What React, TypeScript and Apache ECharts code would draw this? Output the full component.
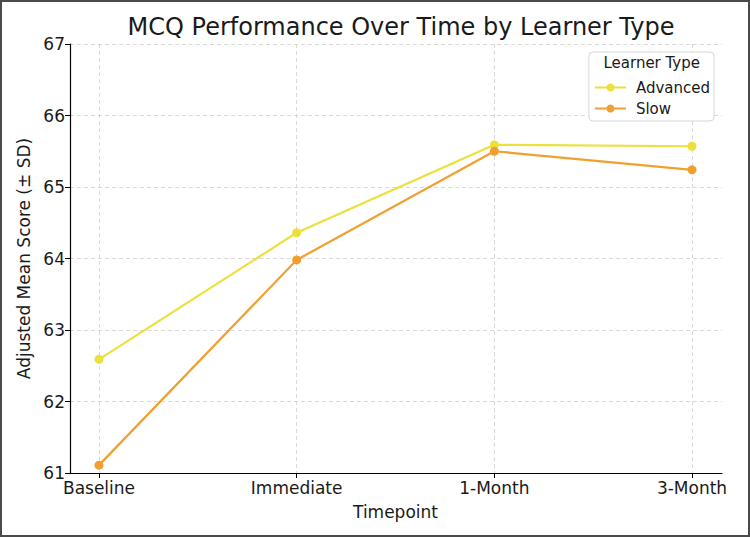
import React, { useEffect, useRef } from "react";
import * as echarts from "echarts";

const timepoints = ["Baseline", "Immediate", "1-Month", "3-Month"];
const advanced = [62.59, 64.36, 65.59, 65.57];
const slow = [61.11, 63.98, 65.5, 65.24];
const yMin = 61;
const yMax = 67;

const FONT = "DejaVu Sans";
const YELLOW = "#ebe03c";
const ORANGE = "#efa02e";

export default function App() {
  const ref = useRef<HTMLDivElement>(null);

  useEffect(() => {
    document.body.style.margin = "0";
    if (!ref.current) return;
    const chart = echarts.init(ref.current, null, { renderer: "svg" });

    const dashed = { show: true, lineStyle: { color: "#cfcfcf", type: [4, 3], width: 0.8 } };

    chart.setOption({
      animation: false,
      backgroundColor: "#ffffff",
      textStyle: { fontFamily: FONT },
      title: {
        text: "MCQ Performance Over Time by Learner Type",
        left: 394,
        textAlign: "center",
        top: 8,
        textStyle: { fontFamily: FONT, fontSize: 24, fontWeight: "normal", color: "#1a1a1a" },
      },
      legend: {
        orient: "vertical",
        right: 34,
        top: 50,
        padding: [28, 4, 5, 5],
        itemGap: 6,
        itemWidth: 31,
        itemHeight: 10,
        backgroundColor: "#ffffff",
        borderColor: "#d6d6d6",
        borderWidth: 1,
        borderRadius: 4,
        textStyle: { fontFamily: FONT, fontSize: 15, color: "#1a1a1a", padding: [0, 0, 0, 5] },
        data: ["Advanced", "Slow"],
      },
      graphic: [
        {
          type: "text",
          right: 48,
          top: 53,
          style: { text: "Learner Type", fontFamily: FONT, fontSize: 15, fill: "#1a1a1a" },
          z: 100,
        },
      ],
      grid: [
        { left: 68, right: 26, top: 42, bottom: 62 },
        { left: 97, right: 56, top: 42, bottom: 62 },
      ],
      xAxis: [
        {
          type: "value",
          gridIndex: 0,
          min: 0,
          max: 1,
          axisLine: { show: true, lineStyle: { color: "#000", width: 1.2 } },
          axisTick: { show: false },
          axisLabel: { show: false },
          splitLine: { show: false },
        },
        {
          type: "category",
          gridIndex: 1,
          data: timepoints,
          boundaryGap: false,
          axisLine: { show: false },
          axisTick: { show: true, length: 5, lineStyle: { color: "#000" } },
          axisLabel: { fontFamily: FONT, fontSize: 17, color: "#1a1a1a", margin: 6 },
          splitLine: dashed,
          name: "Timepoint",
          nameLocation: "middle",
          nameGap: 30,
          nameTextStyle: { fontFamily: FONT, fontSize: 17, color: "#1a1a1a" },
        },
      ],
      yAxis: [
        {
          type: "value",
          gridIndex: 0,
          min: yMin,
          max: yMax,
          interval: 1,
          axisLine: { show: true, lineStyle: { color: "#000", width: 1.2 } },
          axisTick: { show: true, length: 5, lineStyle: { color: "#000" } },
          axisLabel: { fontFamily: FONT, fontSize: 17, color: "#1a1a1a", margin: 5 },
          splitLine: dashed,
          name: "Adjusted Mean Score (± SD)",
          nameLocation: "middle",
          nameGap: 36,
          nameRotate: 90,
          nameTextStyle: { fontFamily: FONT, fontSize: 17, color: "#1a1a1a" },
        },
        {
          type: "value",
          gridIndex: 1,
          min: yMin,
          max: yMax,
          interval: 1,
          show: false,
          splitLine: { show: false },
        },
      ],
      series: [
        {
          name: "Advanced",
          type: "line",
          xAxisIndex: 1,
          yAxisIndex: 1,
          data: advanced,
          symbol: "circle",
          symbolSize: 9,
          lineStyle: { color: YELLOW, width: 2.2 },
          itemStyle: { color: YELLOW },
        },
        {
          name: "Slow",
          type: "line",
          xAxisIndex: 1,
          yAxisIndex: 1,
          data: slow,
          symbol: "circle",
          symbolSize: 9,
          lineStyle: { color: ORANGE, width: 2.2 },
          itemStyle: { color: ORANGE },
        },
      ],
    });

    return () => chart.dispose();
  }, []);

  return (
    <div
      style={{
        width: 750,
        height: 537,
        boxSizing: "border-box",
        border: "2px solid #4a4a4a",
        background: "#fff",
      }}
    >
      <div ref={ref} style={{ width: 746, height: 533 }} />
    </div>
  );
}
